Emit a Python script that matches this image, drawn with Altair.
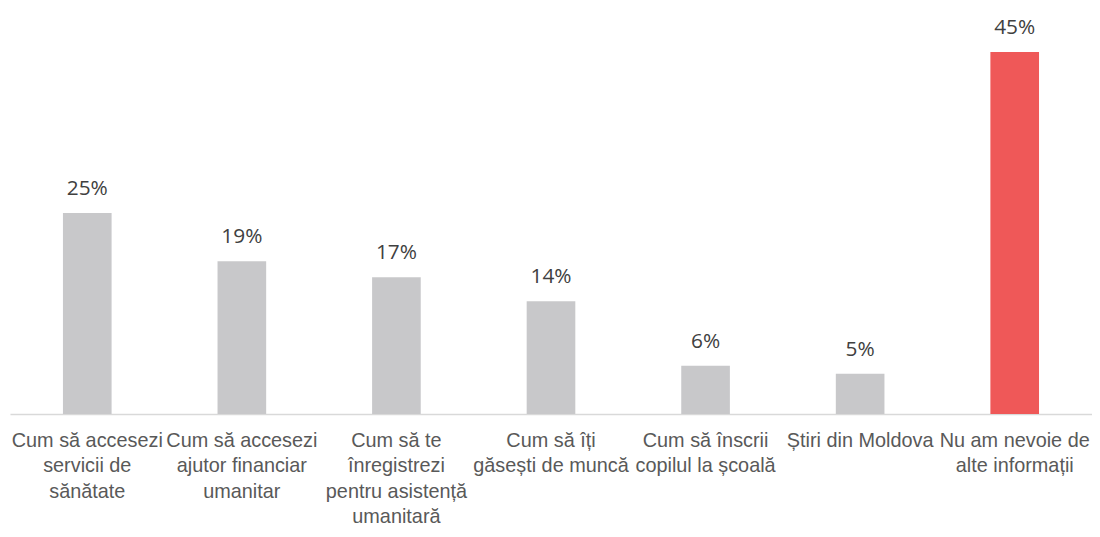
import altair as alt
import pandas as pd

categories = [
    "Cum să accesezi|servicii de|sănătate",
    "Cum să accesezi|ajutor financiar|umanitar",
    "Cum să te|înregistrezi|pentru asistență|umanitară",
    "Cum să îți|găsești de muncă",
    "Cum să înscrii|copilul la școală",
    "Știri din Moldova",
    "Nu am nevoie de|alte informații",
]
values = [25, 19, 17, 14, 6, 5, 45]
labels = ["25%", "19%", "17%", "14%", "6%", "5%", "45%"]
highlight = [False, False, False, False, False, False, True]

df = pd.DataFrame({"cat": categories, "val": values, "lab": labels, "hl": highlight})

base = alt.Chart(df).encode(
    x=alt.X("cat:N", sort=categories, title=None,
            scale=alt.Scale(paddingInner=0, paddingOuter=0),
            axis=alt.Axis(labelAngle=0, labelExpr="split(datum.label, '|')",
                          labelFont="Liberation Sans", labelFontSize=20,
                          labelColor="#595959", labelPadding=17, labelLineHeight=25.5,
                          labelBaseline="top",
                          ticks=False, domainColor="#D9D9D9", domainWidth=1.5,
                          labelLimit=200)),
    y=alt.Y("val:Q", scale=alt.Scale(domain=[0, 50]), axis=None),
)

bars = base.mark_bar(size=49).encode(
    color=alt.Color("hl:N", scale=alt.Scale(domain=[False, True], range=["#C8C8CA", "#EF5858"]), legend=None)
)
text = base.mark_text(baseline="bottom", dy=-14, font="Open Sans", fontSize=21, color="#404040").encode(
    text="lab:N"
)

chart = (bars + text).properties(
    width=1090, height=405,
    padding={"left": 2, "top": 2, "right": 0, "bottom": 114},
    autosize=alt.AutoSizeParams(type="none"),
).configure_view(stroke=None)
chart.save("out.html", embed_options={"renderer": "svg", "actions": False})
